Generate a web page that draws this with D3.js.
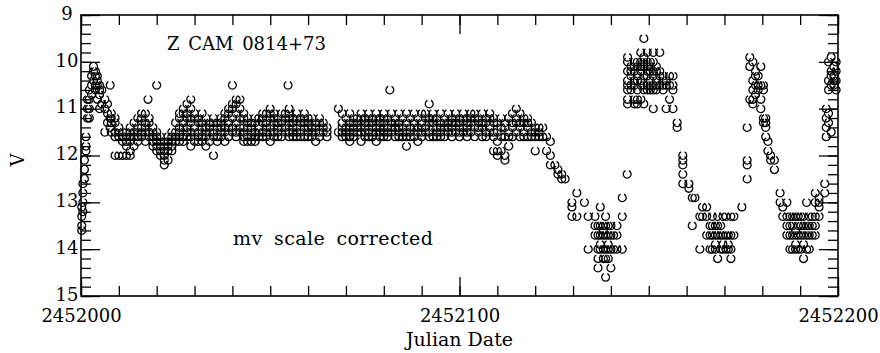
<!DOCTYPE html>
<html>
<head>
<meta charset="utf-8">
<script src="https://cdn.jsdelivr.net/npm/d3@7"></script>
<style>
  body { margin: 0; background: #fff; }
  text { font-family: "DejaVu Serif", serif; fill: #000; }
</style>
</head>
<body>
<svg id="chart" width="880" height="353"></svg>
<script>
// Z Cam light curve, V magnitude vs Julian date (offset from 2452000)
const JD0 = 2452000;

// [day offset, [magnitudes observed that day]]
const riseStart = [
  [0.2, [13.6, 13.5, 13.3, 13.1]],
  [0.5, [13.2, 13.0, 12.8, 12.6]],
  [0.9, [12.5, 12.3, 12.1]],
  [1.3, [11.9, 11.8, 11.6]],
  [1.7, [11.2, 11.0, 10.8]],
  [2.2, [10.6, 10.8, 11.0, 11.2]],
  [2.8, [10.3, 10.5, 10.7]],
  [3.3, [10.1, 10.2, 10.4]],
  [3.8, [10.2, 10.3, 10.5, 10.6]],
  [4.3, [10.3, 10.4, 10.5, 10.8]],
  [4.9, [10.5, 10.6, 10.7, 11.0]],
  [5.5, [10.6, 10.9]],
  [6.3, [10.8, 11.0, 11.5]],
  [7.0, [10.9, 11.1, 11.3]],
  [7.7, [10.5, 11.2, 11.4]]
];

const standstill = [
  [8, [11.1, 11.2, 11.3, 11.5]],
  [9, [11.2, 11.3, 11.5, 11.6, 12.0]],
  [10, [11.4, 11.5, 11.6, 12.0]],
  [11, [11.5, 11.6, 11.7, 12.0]],
  [12, [11.5, 11.6, 11.7, 11.8, 12.0]],
  [13, [11.4, 11.5, 11.6, 11.7, 11.9, 12.0]],
  [14, [11.3, 11.5, 11.6, 11.8]],
  [15, [11.2, 11.4, 11.5, 11.6, 11.7]],
  [16, [11.1, 11.2, 11.4, 11.5, 11.6]],
  [17, [11.1, 11.3, 11.4, 11.5, 11.7]],
  [17.7, [10.8]],
  [18, [11.2, 11.3, 11.5, 11.6]],
  [19, [11.4, 11.5, 11.6, 11.7, 11.8]],
  [20, [10.5, 11.5, 11.6, 11.7, 11.8, 11.9]],
  [21, [11.6, 11.7, 11.8, 11.9, 12.0]],
  [22, [11.7, 11.8, 11.9, 12.0, 12.1, 12.2]],
  [23, [11.6, 11.7, 11.8, 11.9, 12.1]],
  [24, [11.5, 11.6, 11.7, 11.8, 11.9]],
  [25, [11.3, 11.5, 11.6, 11.7]],
  [26, [11.1, 11.2, 11.4, 11.5, 11.6, 11.7]],
  [27, [11.0, 11.1, 11.3, 11.4, 11.6, 11.7]],
  [28, [10.9, 11.1, 11.2, 11.4, 11.5, 11.6]],
  [29, [10.8, 11.0, 11.2, 11.3, 11.5, 11.6, 11.8]],
  [30, [11.1, 11.2, 11.4, 11.5, 11.7]],
  [31, [11.2, 11.3, 11.5, 11.6, 11.7]],
  [32, [11.1, 11.3, 11.4, 11.6, 11.7]],
  [33, [11.2, 11.4, 11.5, 11.6, 11.8]],
  [34, [11.3, 11.4, 11.5, 11.7]],
  [35, [11.2, 11.3, 11.5, 11.6, 12.0]],
  [36, [11.3, 11.4, 11.6, 11.7]],
  [37, [11.2, 11.3, 11.4, 11.5, 11.6]],
  [38, [11.1, 11.2, 11.4, 11.5, 11.7]],
  [39, [11.0, 11.1, 11.3, 11.4, 11.6]],
  [40, [10.5, 10.9, 11.0, 11.2, 11.4, 11.5]],
  [41, [10.8, 10.9, 11.1, 11.3, 11.5, 11.6]],
  [42, [10.8, 11.0, 11.2, 11.4, 11.5]],
  [43, [11.1, 11.2, 11.4, 11.5, 11.6, 11.7]],
  [44, [11.2, 11.3, 11.4, 11.6, 11.7]],
  [45, [11.3, 11.4, 11.5, 11.6, 11.7]],
  [46, [11.2, 11.3, 11.5, 11.6, 11.7]],
  [47, [11.2, 11.4, 11.5, 11.6]],
  [48, [11.1, 11.2, 11.3, 11.5, 11.6]],
  [49, [11.1, 11.3, 11.4, 11.5, 11.6]],
  [50, [11.0, 11.1, 11.2, 11.4, 11.5, 11.7]],
  [51, [11.1, 11.2, 11.3, 11.5, 11.6]],
  [52, [11.2, 11.3, 11.4, 11.5, 11.6]],
  [53, [11.1, 11.3, 11.4, 11.6]],
  [54, [11.1, 11.2, 11.4, 11.5]],
  [54.7, [10.5]],
  [55, [11.0, 11.1, 11.2, 11.3, 11.5, 11.6]],
  [56, [11.2, 11.3, 11.4, 11.5, 11.6]],
  [57, [11.1, 11.2, 11.4, 11.5, 11.6]],
  [58, [11.2, 11.3, 11.5, 11.6]],
  [59, [11.1, 11.2, 11.3, 11.4, 11.6]],
  [60, [11.2, 11.3, 11.4, 11.5, 11.6]],
  [61, [11.2, 11.4, 11.5, 11.6]],
  [62, [11.3, 11.4, 11.5, 11.7]],
  [63, [11.2, 11.3, 11.5, 11.6]],
  [64, [11.3, 11.4, 11.5]],
  [65, [11.4, 11.5, 11.6]],
  [68, [11.0, 11.5]],
  [69, [11.1, 11.3, 11.4, 11.5, 11.6]],
  [70, [11.2, 11.4, 11.5, 11.6]],
  [71, [11.1, 11.3, 11.4, 11.5, 11.6, 11.7]],
  [72, [11.2, 11.3, 11.4, 11.5, 11.6]],
  [73, [11.2, 11.3, 11.4, 11.5]],
  [74, [11.1, 11.2, 11.4, 11.5, 11.7]],
  [75, [11.2, 11.3, 11.4, 11.5, 11.6]],
  [76, [11.1, 11.2, 11.3, 11.5, 11.6]],
  [77, [11.2, 11.3, 11.4, 11.5, 11.6]],
  [78, [11.1, 11.2, 11.4, 11.5, 11.7]],
  [79, [11.2, 11.3, 11.4, 11.5, 11.6]],
  [80, [11.1, 11.2, 11.3, 11.4, 11.5, 11.6]],
  [81, [11.2, 11.4, 11.5, 11.6]],
  [81.6, [10.6]],
  [82, [11.1, 11.3, 11.4, 11.5]],
  [83, [11.2, 11.3, 11.4, 11.6]],
  [84, [11.1, 11.3, 11.4, 11.5, 11.6]],
  [85, [11.2, 11.4, 11.5, 11.6]],
  [86, [11.1, 11.3, 11.5, 11.6, 11.8]],
  [87, [11.2, 11.4, 11.5, 11.6]],
  [88, [11.1, 11.3, 11.4, 11.6]],
  [89, [11.2, 11.4, 11.5, 11.7]],
  [90, [11.1, 11.3, 11.4, 11.5, 11.6]],
  [91, [11.1, 11.2, 11.4, 11.5]],
  [92, [10.9, 11.2, 11.3, 11.5, 11.6]],
  [93, [11.1, 11.2, 11.3, 11.4, 11.6]],
  [94, [11.2, 11.4, 11.5, 11.6]],
  [95, [11.1, 11.3, 11.4, 11.5, 11.6]],
  [96, [11.2, 11.3, 11.4, 11.6]],
  [97, [11.1, 11.3, 11.4, 11.5]],
  [98, [11.2, 11.3, 11.4, 11.5, 11.6]],
  [99, [11.1, 11.2, 11.3, 11.5]],
  [100, [11.2, 11.3, 11.4, 11.5, 11.6]],
  [101, [11.1, 11.2, 11.4, 11.5]],
  [102, [11.2, 11.3, 11.4, 11.5, 11.6]],
  [103, [11.1, 11.2, 11.3, 11.5]],
  [104, [11.1, 11.2, 11.4, 11.6]],
  [105, [11.2, 11.3, 11.4, 11.5]],
  [106, [11.1, 11.3, 11.4, 11.6]],
  [107, [11.2, 11.3, 11.5, 11.6]],
  [108, [11.1, 11.2, 11.4, 11.5]],
  [109, [11.2, 11.3, 11.5, 11.6, 11.9]],
  [110, [11.3, 11.5, 11.7, 11.9, 12.0]],
  [111, [11.2, 11.4, 11.6, 11.9]],
  [112, [11.3, 11.4, 11.6, 12.0, 12.1]],
  [113, [11.2, 11.5, 11.6, 11.8]],
  [114, [11.1, 11.3, 11.4, 11.6]],
  [115, [11.0, 11.2, 11.3, 11.5]],
  [116, [11.1, 11.3, 11.4, 11.6]],
  [117, [11.2, 11.3, 11.5, 11.6]],
  [118, [11.2, 11.3, 11.4, 11.6]],
  [119, [11.3, 11.5, 11.6]],
  [120, [11.4, 11.5, 11.6, 11.9]],
  [121, [11.4, 11.5, 11.6]],
  [122, [11.4, 11.6]],
  [123, [11.6, 11.9]],
  [124, [11.7, 12.0, 12.2]]
];

const decline1 = [
  [125.2, [12.2]],
  [126.0, [12.3, 12.4]],
  [127.0, [12.4, 12.5]],
  [127.9, [12.5]],
  [129.7, [13.0, 13.1, 13.3]],
  [131.0, [12.8, 13.3]],
  [133.0, [13.0]],
  [134.0, [13.3, 14.0]],
  [135.8, [13.3, 13.5, 13.7]],
  [136.6, [13.5, 13.7, 14.0, 14.2, 14.4]],
  [137.2, [13.1, 13.5, 13.7, 13.9, 14.0]],
  [138.0, [13.5, 13.6, 13.7, 14.0, 14.2]],
  [138.6, [13.3, 13.5, 13.7, 14.0, 14.2, 14.6]],
  [139.3, [13.5, 13.7, 13.9, 14.0, 14.2]],
  [140.0, [13.5, 13.7, 14.0, 14.4]],
  [140.7, [13.7, 14.0]],
  [141.6, [13.5, 13.7, 14.0]],
  [143.0, [12.9, 13.3, 14.0]],
  [144.3, [12.4]]
];

const outburst2 = [
  [144.4, [9.9, 10.0, 10.2, 10.4, 10.5, 10.6, 10.8, 10.9]],
  [145.3, [10.1, 10.2, 10.3, 10.5, 10.6]],
  [146.2, [10.0, 10.1, 10.2, 10.4, 10.5, 10.8, 10.9]],
  [147.0, [10.0, 10.1, 10.3, 10.4, 10.6, 10.8, 10.9]],
  [147.9, [9.8, 10.0, 10.1, 10.2, 10.4, 10.5, 10.8]],
  [148.7, [9.5, 9.9, 10.0, 10.1, 10.3, 10.5, 10.6, 10.9]],
  [149.6, [9.8, 10.0, 10.1, 10.2, 10.3, 10.5, 10.6]],
  [150.4, [10.0, 10.1, 10.2, 10.4, 10.5, 10.6]],
  [151.2, [9.8, 10.0, 10.2, 10.3, 10.5, 10.6, 11.0]],
  [152.0, [10.1, 10.2, 10.4, 10.5, 10.6]],
  [152.9, [9.8, 10.2, 10.3, 10.5]],
  [153.8, [10.3, 10.4, 10.5, 10.6]],
  [154.6, [10.4, 10.5, 11.0]],
  [155.5, [10.3, 10.5, 10.8]],
  [156.4, [10.3, 10.5, 10.6, 11.0]],
  [157.5, [11.3, 11.4]],
  [159.0, [12.0, 12.1, 12.2, 12.4, 12.6]],
  [160.6, [12.6, 12.7]],
  [161.5, [12.9, 13.5]],
  [162.2, [12.9]]
];

const minimum2 = [
  [163.5, [13.3, 14.0]],
  [164.2, [13.1, 13.3]],
  [165.3, [13.1, 13.3, 13.7]],
  [166.2, [13.5, 13.7, 14.0]],
  [166.8, [13.3, 13.5, 13.7, 14.0]],
  [167.6, [13.5, 13.7, 13.9, 14.0]],
  [168.2, [13.3, 13.5, 13.7, 14.2]],
  [169.0, [13.5, 13.7, 14.0]],
  [169.6, [13.3, 13.7, 13.9, 14.0]],
  [170.4, [13.3, 13.7, 14.0]],
  [171.0, [13.7, 13.9, 14.0]],
  [171.7, [13.3, 13.7, 14.0, 14.2]],
  [172.5, [13.3, 13.7]],
  [174.6, [13.1]]
];

const outburst3 = [
  [176.0, [11.4, 12.1, 12.2, 12.5]],
  [176.7, [9.9, 10.1, 10.8]],
  [177.5, [10.0, 10.4, 10.6, 10.8, 10.9]],
  [178.2, [10.2, 10.3, 10.5, 10.7]],
  [178.9, [10.3, 10.5, 10.6]],
  [179.6, [10.1, 10.5, 10.8, 11.0]],
  [180.3, [10.5, 10.6, 11.2, 11.3]],
  [180.9, [11.2, 11.3, 11.4, 11.6]],
  [181.5, [11.7, 11.9]],
  [182.2, [12.0, 12.1]],
  [183.2, [12.1, 12.3]]
];

const minimum3 = [
  [184.7, [12.8, 13.0]],
  [185.4, [13.1, 13.3]],
  [186.5, [13.0, 13.3, 13.5, 13.7]],
  [187.3, [13.3, 13.5, 13.7, 14.0]],
  [188.0, [13.3, 13.5, 13.7, 14.0]],
  [188.8, [13.3, 13.6, 13.7, 13.9, 14.0]],
  [189.5, [13.3, 13.5, 13.7, 14.0]],
  [190.2, [13.3, 13.5, 13.7, 14.0]],
  [190.9, [13.3, 13.5, 13.7, 13.9, 14.2]],
  [191.7, [13.0, 13.5, 13.7, 14.0]],
  [192.4, [13.3, 13.5, 13.7, 14.0]],
  [193.2, [13.3, 13.5, 13.7]],
  [194.0, [12.8, 13.0, 13.3, 13.5, 13.7]],
  [195.0, [12.9, 13.0, 13.1, 13.3]],
  [196.5, [12.6, 12.8]]
];

const outburst4 = [
  [196.9, [11.0, 11.2, 11.4, 11.6]],
  [197.5, [10.0, 10.4, 10.6, 11.1, 11.3]],
  [198.2, [9.9, 10.2, 10.3, 10.5, 11.5]],
  [198.9, [10.1, 10.3, 10.4, 10.5]],
  [199.5, [10.0, 10.2, 10.4, 10.6]]
];

const xMajorTicks = [2452000, 2452100, 2452200];
const yMajorTicks = [9, 10, 11, 12, 13, 14, 15];

const segments = [riseStart, standstill, decline1, outburst2, minimum2, outburst3, minimum3, outburst4];
const points = segments.flat().flatMap(([d, mags]) => mags.map(m => ({ jd: JD0 + d, v: m })));

const svg = d3.select('#chart');
svg.append('rect').attr('width', 880).attr('height', 353).attr('fill', '#fff');

const margin = { top: 15, right: 42, bottom: 57, left: 81 };
const width = 880, height = 353;

const x = d3.scaleLinear().domain([2452000, 2452200]).range([margin.left, width - margin.right]);
const y = d3.scaleLinear().domain([9, 15]).range([margin.top, height - margin.bottom]);

const xMinor = d3.range(2452000, 2452201, 10);
const yMinor = d3.range(9, 15.01, 0.2).map(v => +v.toFixed(1));

function styleAxis(g) {
  g.select('.domain').remove();
  g.selectAll('line').attr('stroke', '#000').attr('stroke-width', 1.3);
  g.selectAll('text').attr('font-family', '"DejaVu Serif", serif').attr('font-size', 18).attr('fill', '#000');
}

// bottom
svg.append('g').attr('transform', `translate(0,${y(15)})`)
  .call(d3.axisBottom(x).tickValues(xMinor).tickSize(-10).tickFormat(''))
  .call(styleAxis);
svg.append('g').attr('transform', `translate(0,${y(15)})`)
  .call(d3.axisBottom(x).tickValues(xMajorTicks).tickSize(-19).tickPadding(13).tickFormat(d3.format('d')))
  .call(styleAxis);
// top
svg.append('g').attr('transform', `translate(0,${y(9)})`)
  .call(d3.axisTop(x).tickValues(xMinor).tickSize(-10).tickFormat(''))
  .call(styleAxis);
svg.append('g').attr('transform', `translate(0,${y(9)})`)
  .call(d3.axisTop(x).tickValues(xMajorTicks).tickSize(-19).tickFormat(''))
  .call(styleAxis);
// left
svg.append('g').attr('transform', `translate(${x(2452000)},0)`)
  .call(d3.axisLeft(y).tickValues(yMinor).tickSize(-10).tickFormat(''))
  .call(styleAxis);
const leftMajor = svg.append('g').attr('transform', `translate(${x(2452000)},0)`)
  .call(d3.axisLeft(y).tickValues(yMajorTicks).tickSize(-19).tickFormat(d3.format('d')))
  .call(styleAxis);
leftMajor.selectAll('text').attr('text-anchor', 'middle').attr('x', -14).attr('dy', '0.24em');
// right
svg.append('g').attr('transform', `translate(${x(2452200)},0)`)
  .call(d3.axisRight(y).tickValues(yMinor).tickSize(-10).tickFormat(''))
  .call(styleAxis);
svg.append('g').attr('transform', `translate(${x(2452200)},0)`)
  .call(d3.axisRight(y).tickValues(yMajorTicks).tickSize(-19).tickFormat(''))
  .call(styleAxis);

svg.append('rect')
  .attr('x', x(2452000)).attr('y', y(9))
  .attr('width', x(2452200) - x(2452000)).attr('height', y(15) - y(9))
  .attr('fill', 'none').attr('stroke', '#000').attr('stroke-width', 1.6);

// open circle markers (slightly open at the top, like the printed symbol)
const marker = d3.arc()({ innerRadius: 3.3, outerRadius: 4.6, startAngle: 0.45, endAngle: 2 * Math.PI - 0.45 });
svg.append('g').selectAll('path')
  .data(points)
  .enter()
  .append('path')
  .attr('d', marker)
  .attr('transform', d => `translate(${x(d.jd)},${y(d.v)})`)
  .attr('fill', '#000');

svg.append('text').attr('x', 167).attr('y', 50).attr('font-size', 18)
  .attr('word-spacing', 3).text('Z CAM 0814+73');
svg.append('text').attr('x', 233).attr('y', 245).attr('font-size', 19)
  .attr('word-spacing', 5).attr('letter-spacing', 0.4).text('mv scale corrected');

svg.append('text').attr('x', (x(2452000) + x(2452200)) / 2).attr('y', 346)
  .attr('text-anchor', 'middle').attr('font-size', 19).text('Julian Date');
svg.append('text').attr('transform', 'translate(24,160) rotate(-90)')
  .attr('text-anchor', 'middle').attr('font-size', 18).text('V');
</script>
</body>
</html>
